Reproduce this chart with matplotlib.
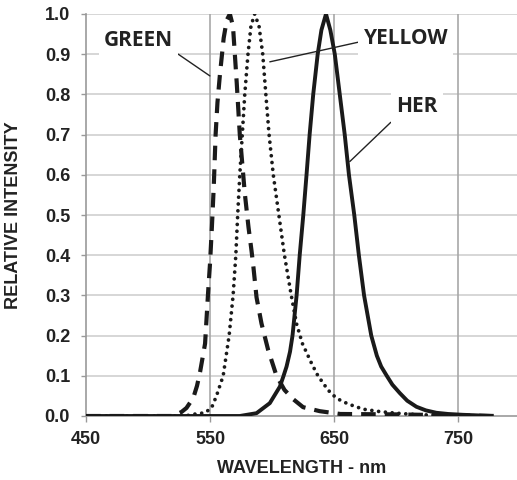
import numpy as np
import matplotlib
matplotlib.use('Agg')
import matplotlib.pyplot as plt

plt.rcParams['font.family'] = ['Liberation Sans', 'DejaVu Sans']
plt.rcParams['font.weight'] = 'bold'
plt.rcParams['lines.scale_dashes'] = False

# 光谱数据
green_wl = [450, 520, 527, 531, 536.5, 539.5, 542, 546, 548.5, 550, 551.5, 553, 554.5, 556, 558, 561, 563.5, 566,
            568.5, 571.5, 574, 578, 581, 583.5, 585, 587.5, 591.5, 596.8, 603.6, 610, 617, 625, 638.5, 655, 700, 780]
green_val = [0, 0, 0.01, 0.02, 0.045, 0.075, 0.11, 0.18, 0.31, 0.38, 0.47, 0.57, 0.70, 0.78, 0.85, 0.94, 0.985, 1.0,
             0.97, 0.83, 0.70, 0.555, 0.47, 0.41, 0.37, 0.295, 0.23, 0.165, 0.10, 0.065, 0.042, 0.022, 0.012, 0.005, 0.004, 0]

yellow_wl = [450, 530, 536, 545.8, 551.2, 555.2, 560.6, 565.4, 568.6, 570.8, 572.3, 574, 576, 578, 580.6, 583, 586,
             589.5, 592.5, 595, 597.6, 601, 605.5, 610, 615.5, 619.7, 624.5, 632, 637, 640.5, 645, 650, 654.6,
             661.3, 673.4, 686.8, 700, 719, 775]
yellow_val = [0, 0, 0.004, 0.008, 0.02, 0.05, 0.1, 0.2, 0.3, 0.4, 0.5, 0.6, 0.7, 0.8, 0.9, 0.97, 1.0,
              0.97, 0.9, 0.8, 0.7, 0.6, 0.5, 0.4, 0.3, 0.23, 0.18, 0.13, 0.1, 0.085, 0.065, 0.05, 0.04,
              0.03, 0.017, 0.011, 0.007, 0.003, 0]

her_wl = [450, 574, 587.5, 598.2, 606.3, 609.3, 611.7, 614.5, 616.5, 619.8, 622.3, 625.2, 627.8, 630.3, 633.2,
          636.8, 639.8, 643.5, 647, 650.6, 654.6, 658.6, 662, 666.3, 670, 674.2, 680, 684.5, 688, 692.5,
          697, 703, 709, 716.4, 724, 732.5, 742, 753.7, 778]
her_val = [0, 0, 0.007, 0.032, 0.073, 0.1, 0.123, 0.16, 0.2, 0.3, 0.4, 0.5, 0.6, 0.7, 0.8,
           0.9, 0.96, 1.0, 0.96, 0.9, 0.8, 0.7, 0.6, 0.5, 0.4, 0.3, 0.2, 0.15, 0.123, 0.1,
           0.078, 0.057, 0.038, 0.023, 0.014, 0.008, 0.005, 0.003, 0]

x_ticks = [450, 550, 650, 750]
y_ticks = np.round(np.arange(0, 1.01, 0.1), 1)

fig = plt.figure(figsize=(5.17, 4.80), dpi=100)
ax = fig.add_axes([86 / 517, 64 / 480, 431 / 517, 402 / 480])

ax.set_xlim(450, 797.5)
ax.set_ylim(0, 1.0)

# 网格
for y in y_ticks[1:]:
    ax.axhline(y, color='#cfcfcf', lw=1.2, zorder=0)
for x in x_ticks[1:]:
    ax.axvline(x, color='#a8a8a8', lw=1.2, zorder=0)

ax.plot(her_wl, her_val, color='#1a1a1a', lw=2.8, solid_capstyle='butt', solid_joinstyle='round', zorder=3)
ax.plot(green_wl, green_val, color='#1a1a1a', lw=3.0, dashes=(10.5, 6.5), dash_capstyle='butt', zorder=3)
ax.plot(yellow_wl, yellow_val, color='#1a1a1a', lw=2.7, dashes=(0.01, 4.9), dash_capstyle='round', zorder=3)

for s in ['top', 'right']:
    ax.spines[s].set_visible(False)
for s in ['left', 'bottom']:
    ax.spines[s].set_color('#999999')
    ax.spines[s].set_linewidth(1.2)

tick_font = dict(fontsize=13, fontweight='bold', color='#222222', family=['Liberation Sans', 'DejaVu Sans'])
ax.set_xticks(x_ticks, [str(v) for v in x_ticks], **tick_font)
ax.set_yticks(y_ticks, [f'{v:.1f}' for v in y_ticks], **tick_font)
ax.tick_params(axis='x', length=4.5, width=1, color='#999999', pad=6)
ax.tick_params(axis='y', length=3.5, width=1, color='#999999', pad=8)

ax.set_xlabel('WAVELENGTH - nm', fontsize=13, fontweight='bold', color='#222222', labelpad=9)
ax.set_ylabel('RELATIVE INTENSITY', fontsize=13, fontweight='bold', color='#222222', labelpad=16)

# 标注
box = dict(boxstyle='square,pad=0.25', fc='white', ec='none')
lab_font = dict(fontsize=15, fontweight='bold', family=['Open Sans', 'DejaVu Sans'], color='#222222')
ax.annotate('GREEN', xy=(549.9, 0.846), xytext=(492.3, 0.935), ha='center', va='center', bbox=box,
            arrowprops=dict(arrowstyle='-', lw=1, color='#222222', relpos=(1, 0), shrinkA=0, shrinkB=0),
            zorder=4, **lab_font)
ax.annotate('YELLOW', xy=(598.2, 0.881), xytext=(707.8, 0.938), ha='center', va='center', bbox=box,
            arrowprops=dict(arrowstyle='-', lw=1, color='#222222', relpos=(0, 0.4), shrinkA=0, shrinkB=0),
            zorder=4, **lab_font)
ax.annotate('HER', xy=(662.7, 0.633), xytext=(716.6, 0.769), ha='center', va='center', bbox=box,
            arrowprops=dict(arrowstyle='-', lw=1, color='#222222', relpos=(0, 0), shrinkA=0, shrinkB=0),
            zorder=4, **lab_font)

plt.savefig('out.png', dpi=100)
plt.close()
